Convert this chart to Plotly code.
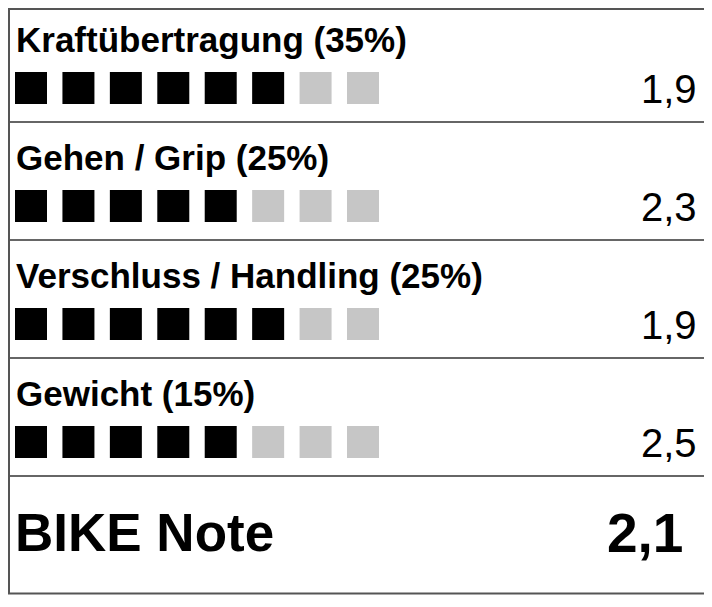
import plotly.graph_objects as go

# rating rows of the BIKE test box
categories = [
    "Kraftübertragung (35%)",
    "Gehen / Grip (25%)",
    "Verschluss / Handling (25%)",
    "Gewicht (15%)",
]
filled_squares = [6, 5, 6, 5]
scores = [1.9, 2.3, 1.9, 2.5]
max_squares = 8

total_label = "BIKE Note"
total_score = 2.1

BLACK = "#000000"
GREY = "#c6c6c6"
LINE = "#666666"
FONT = "Liberation Sans, Arial, Helvetica, sans-serif"

# the page has an 8px body margin, so the figure is drawn 8px smaller
OFF = 8
W, H = 712 - OFF, 607 - OFF
PITCH_X = 47.43  # px between squares
PITCH_Y = 118.0  # px between rows
X0 = (31 - OFF) / PITCH_X  # first square centre, in squares
Y0 = (88 - OFF) / PITCH_Y  # first row centre, in rows


def px_y(p):
    # page pixel -> y data (rows)
    return (p - OFF) / PITCH_Y - Y0


def px_x(p):
    # page pixel -> paper x
    return (p - OFF) / W


def fmt(v):
    return f"{v:.1f}".replace(".", ",")


xs, ys, colors = [], [], []
for row, n in enumerate(filled_squares):
    for i in range(max_squares):
        xs.append(i)
        ys.append(row)
        colors.append(BLACK if i < n else GREY)

fig = go.Figure()
fig.add_trace(
    go.Scatter(
        x=xs,
        y=ys,
        mode="markers",
        marker=dict(symbol="square", size=32, color=colors, line=dict(width=0)),
        hoverinfo="skip",
        showlegend=False,
    )
)

annotations = []
for row, (cat, score) in enumerate(zip(categories, scores)):
    annotations.append(
        dict(
            text=f"<b>{cat}</b>",
            xref="paper",
            yref="y",
            x=px_x(14),
            y=row - 0.41,
            xanchor="left",
            yanchor="middle",
            showarrow=False,
            font=dict(family=FONT, size=35, color=BLACK),
        )
    )
    annotations.append(
        dict(
            text=fmt(score),
            xref="paper",
            yref="y",
            x=px_x(699),
            y=row + 0.01,
            xanchor="right",
            yanchor="middle",
            showarrow=False,
            font=dict(family=FONT, size=40, color=BLACK),
        )
    )

total_row = len(categories)
annotations.append(
    dict(
        text=f"<b>{total_label}</b>",
        xref="paper",
        yref="y",
        x=px_x(13),
        y=total_row - 0.23,
        xanchor="left",
        yanchor="middle",
        showarrow=False,
        font=dict(family=FONT, size=53, color=BLACK),
    )
)
annotations.append(
    dict(
        text=f"<b>{fmt(total_score)}</b>",
        xref="paper",
        yref="y",
        x=px_x(685),
        y=total_row - 0.23,
        xanchor="right",
        yanchor="middle",
        showarrow=False,
        font=dict(family=FONT, size=55, color=BLACK),
    )
)

shapes = []
# row separators
for row in range(len(categories)):
    shapes.append(
        dict(
            type="line",
            xref="paper",
            yref="y",
            x0=0,
            x1=1,
            y0=row + 0.288,
            y1=row + 0.288,
            line=dict(color=LINE, width=2),
        )
    )
# outer frame
shapes.append(
    dict(
        type="rect",
        xref="paper",
        yref="y",
        x0=1 / W,
        x1=px_x(710.5),
        y0=px_y(OFF + 1),
        y1=px_y(593.5),
        line=dict(color="#555555", width=2),
    )
)

fig.update_layout(
    width=W,
    height=H,
    margin=dict(l=0, r=0, t=0, b=0),
    paper_bgcolor="white",
    plot_bgcolor="white",
    xaxis=dict(
        range=[-X0, -X0 + W / PITCH_X],
        visible=False,
        fixedrange=True,
    ),
    yaxis=dict(
        range=[-Y0 + H / PITCH_Y, -Y0],
        visible=False,
        fixedrange=True,
    ),
    shapes=shapes,
    annotations=annotations,
)

fig.write_html("out.html")
